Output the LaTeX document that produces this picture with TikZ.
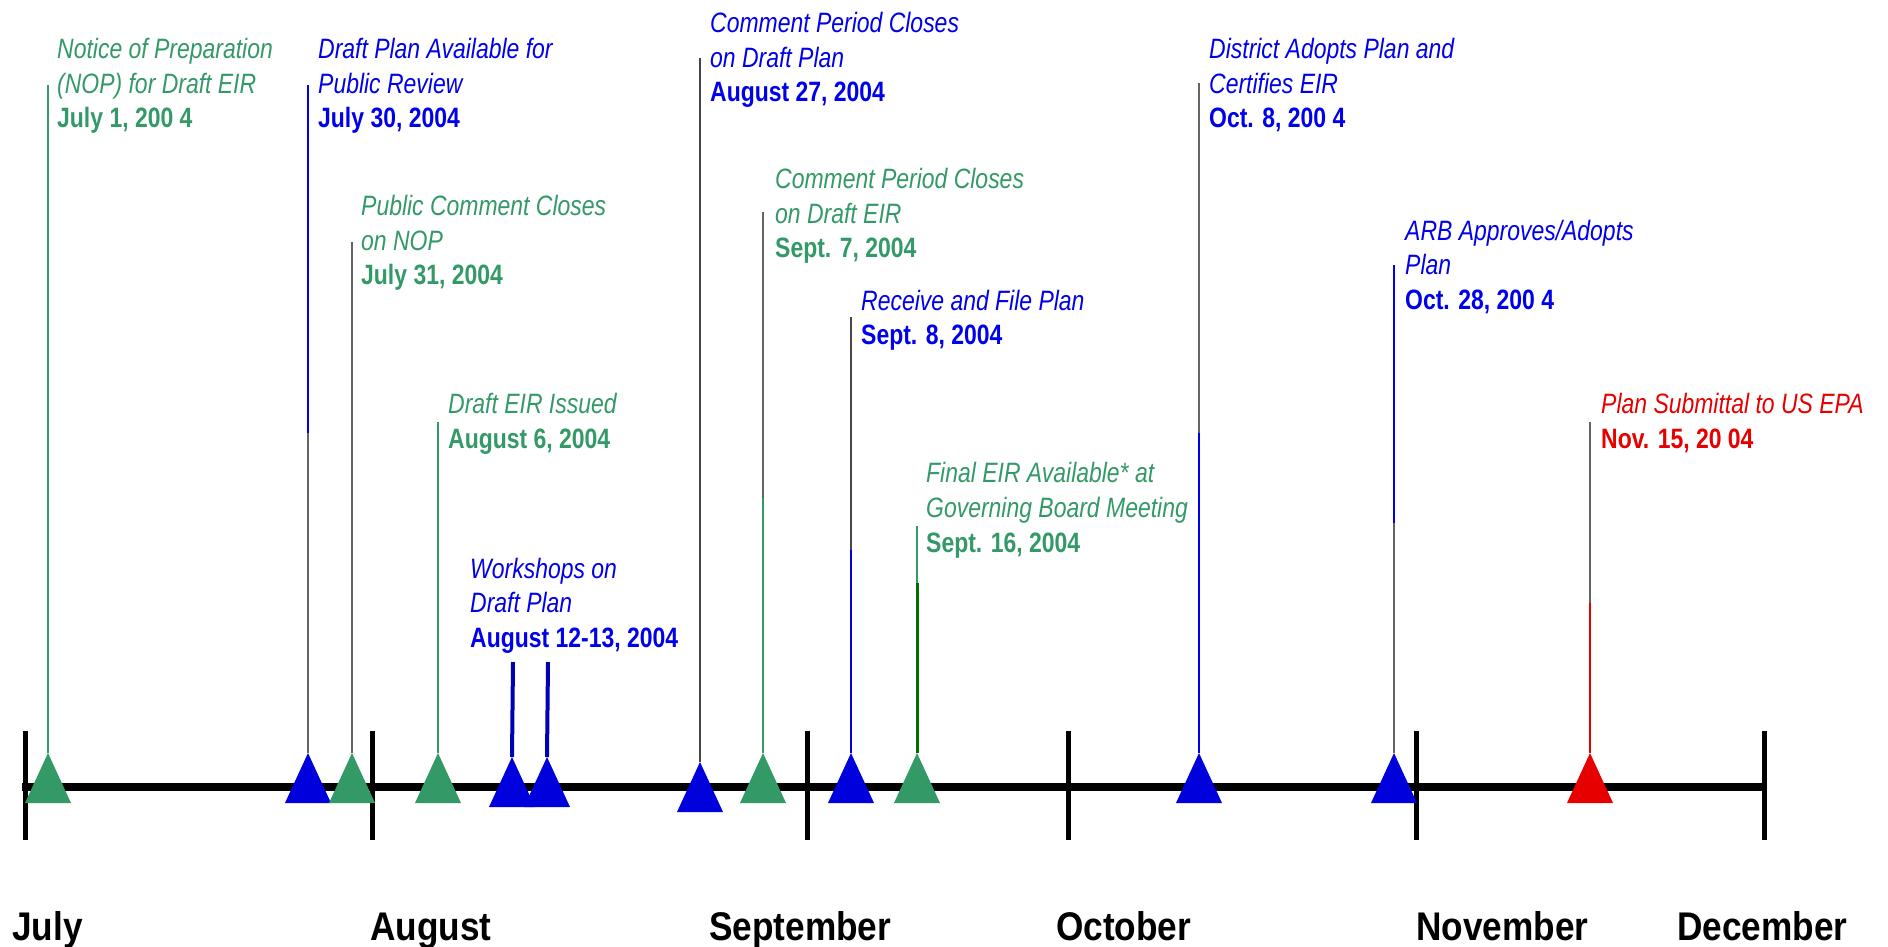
\documentclass[tikz,border=0pt]{standalone}
\usepackage{fontspec}
\newfontfamily\labfont[FakeStretch=0.82]{Liberation Sans}
\newfontfamily\monfont[FakeStretch=0.88]{Liberation Sans}
\definecolor{grn}{RGB}{51,153,102}
\definecolor{blu}{RGB}{0,0,235}
\definecolor{triblu}{RGB}{0,0,220}
\definecolor{wblu}{RGB}{0,0,180}
\definecolor{rd}{RGB}{230,0,0}
\definecolor{ldgray}{RGB}{100,100,100}
\definecolor{dkgrn}{RGB}{0,110,0}
\tikzset{
  it/.style={font=\labfont\fontsize{28}{34}\selectfont\itshape, anchor=base west, inner sep=0pt},
  dt/.style={font=\labfont\fontsize{28}{34}\selectfont\bfseries, anchor=base west, inner sep=0pt},
  month/.style={font=\monfont\fontsize{40}{48}\selectfont\bfseries, anchor=base west, inner sep=0pt, text=black},
  leader/.style={line width=2pt},
  wleader/.style={line width=4pt, wblu},
  tick/.style={line width=5pt, black},
  axisline/.style={line width=8pt, black},
  mk/.pic={\fill[#1] (-23,50) -- (0,0) -- (23,50) -- cycle;}
}
\begin{document}
\begin{tikzpicture}[x=1pt,y=-1pt]
\useasboundingbox (0,0) rectangle (1888,946);
% ---- month ticks and axis ----
\foreach \n/\x in {1/25,2/372,3/807,4/1068,5/1416,6/1764}{
  \coordinate (m\n) at (\x,787);
  \draw[tick] (\x,731) -- (\x,840);
}
\draw[axisline] (22,787) -- (m6);
% ---- month labels ----
\node[month] (jul) at (12,940) {July};
\node[month] (aug) at (370,940) {August};
\node[month] (sep) at (709,940) {September};
\node[month] (oct) at (1056,940) {October};
\node[month] (nov) at (1416,940) {November};
\node[month] (dec) at (1677,940) {December};
% ---- event apexes, breaks, tops ----
\coordinate (t1) at (48,753);   \coordinate (c1) at (48,85);
\coordinate (t2) at (308,753);  \coordinate (b2) at (308,433);  \coordinate (c2) at (308,85);
\coordinate (t3) at (352,753);  \coordinate (c3) at (352,242);
\coordinate (t4) at (438,753);  \coordinate (c4) at (438,422);
\coordinate (t5a) at (512,757); \coordinate (c5a) at (513,662);
\coordinate (t5b) at (547,757); \coordinate (c5b) at (548,662);
\coordinate (t6) at (700,762);  \coordinate (c6) at (700,58);
\coordinate (t7) at (763,753);  \coordinate (b7) at (763,498);  \coordinate (c7) at (763,212);
\coordinate (t8) at (851,753);  \coordinate (b8) at (851,550);  \coordinate (c8) at (851,317);
\coordinate (t9) at (917,753);  \coordinate (b9) at (917,583);  \coordinate (c9) at (917,526);
\coordinate (t10) at (1199,753); \coordinate (b10) at (1199,433); \coordinate (c10) at (1199,83);
\coordinate (t11) at (1394,753); \coordinate (b11) at (1394,523); \coordinate (c11) at (1394,265);
\coordinate (t12) at (1590,753); \coordinate (b12) at (1590,603); \coordinate (c12) at (1590,422);
% ---- leaders ----
\draw[leader, grn] (t1) -- (c1);
\draw[leader, ldgray] (t2) -- (b2);  \draw[leader, blu] (b2) -- (c2);
\draw[leader, ldgray] (t3) -- (c3);
\draw[leader, grn] (t4) -- (c4);
\draw[wleader] (t5a) -- (c5a);
\draw[wleader] (t5b) -- (c5b);
\draw[leader, ldgray!70!black] (t6) -- (c6);
\draw[leader, grn] (t7) -- (b7);  \draw[leader, ldgray] (b7) -- (c7);
\draw[leader, blu] (t8) -- (b8);  \draw[leader, ldgray!70!black] (b8) -- (c8);
\draw[line width=3pt, dkgrn] (t9) -- (b9);  \draw[leader, grn] (b9) -- (c9);
\draw[leader, blu] (t10) -- (b10); \draw[leader, ldgray] (b10) -- (c10);
\draw[leader, ldgray] (t11) -- (b11); \draw[leader, blu] (b11) -- (c11);
\draw[leader, rd] (t12) -- (b12); \draw[leader, ldgray] (b12) -- (c12);
% ---- triangles ----
\pic at (t1) {mk=grn};
\pic at (t2) {mk=triblu};
\pic at (t3) {mk=grn};
\pic at (t4) {mk=grn};
\pic at (t5a) {mk=triblu};
\pic at (t5b) {mk=triblu};
\pic at (t6) {mk=triblu};
\pic at (t7) {mk=grn};
\pic at (t8) {mk=triblu};
\pic at (t9) {mk=grn};
\pic at (t10) {mk=triblu};
\pic at (t11) {mk=triblu};
\pic at (t12) {mk=rd};
% ---- labels ----
\node[it, text=grn] (l1a) at (57,58) {Notice of Preparation};
\node[it, text=grn] (l1b) at (57,93) {(NOP) for Draft EIR};
\node[dt, text=grn] (l1c) at (57,127) {July 1, 200 4};
\node[it, text=blu] (l2a) at (318,58) {Draft Plan Available for};
\node[it, text=blu] (l2b) at (318,93) {Public Review};
\node[dt, text=blu] (l2c) at (318,127) {July 30, 2004};
\node[it, text=grn] (l3a) at (361,215) {Public Comment Closes};
\node[it, text=grn] (l3b) at (361,250) {on NOP};
\node[dt, text=grn] (l3c) at (361,284) {July 31, 2004};
\node[it, text=grn] (l4a) at (448,413) {Draft EIR Issued};
\node[dt, text=grn] (l4b) at (448,448) {August 6, 2004};
\node[it, text=blu] (l5a) at (470,578) {Workshops on};
\node[it, text=blu] (l5b) at (470,612) {Draft Plan};
\node[dt, text=blu] (l5c) at (470,647) {August 12-13, 2004};
\node[it, text=blu] (l6a) at (710,32) {Comment Period Closes};
\node[it, text=blu] (l6b) at (710,67) {on Draft Plan};
\node[dt, text=blu] (l6c) at (710,101) {August 27, 2004};
\node[it, text=grn] (l7a) at (775,188) {Comment Period Closes};
\node[it, text=grn] (l7b) at (775,223) {on Draft EIR};
\node[dt, text=grn] (l7c) at (775,257) {Sept. 7, 2004};
\node[it, text=blu] (l8a) at (861,310) {Receive and File Plan};
\node[dt, text=blu] (l8b) at (861,344) {Sept. 8, 2004};
\node[it, text=grn] (l9a) at (926,482) {Final EIR Available* at};
\node[it, text=grn] (l9b) at (926,517) {Governing Board Meeting};
\node[dt, text=grn] (l9c) at (926,552) {Sept. 16, 2004};
\node[it, text=blu] (l10a) at (1209,58) {District Adopts Plan and};
\node[it, text=blu] (l10b) at (1209,93) {Certifies EIR};
\node[dt, text=blu] (l10c) at (1209,127) {Oct. 8, 200 4};
\node[it, text=blu] (l11a) at (1405,240) {ARB Approves/Adopts};
\node[it, text=blu] (l11b) at (1405,274) {Plan};
\node[dt, text=blu] (l11c) at (1405,309) {Oct. 28, 200 4};
\node[it, text=rd] (l12a) at (1601,413) {Plan Submittal to US EPA};
\node[dt, text=rd] (l12b) at (1601,448) {Nov. 15, 20 04};
\end{tikzpicture}
\end{document}
